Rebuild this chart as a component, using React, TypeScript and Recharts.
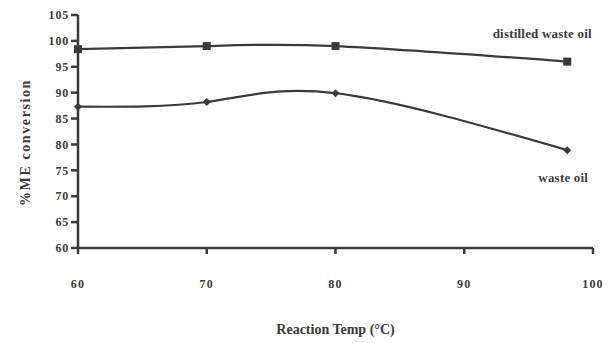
import React from "react";
import { LineChart, Line, XAxis, YAxis, Label, LabelList } from "recharts";

const temps = [60, 70, 80, 98];
const distilledWasteOil = [98.4, 99.0, 99.0, 96.0];
const wasteOil = [87.3, 88.2, 89.9, 78.9];
const xTicks = [60, 70, 80, 90, 100];
const yTicks = [60, 65, 70, 75, 80, 85, 90, 95, 100, 105];
const seriesNames = ["distilled waste oil", "waste oil"];
const xTitle = "Reaction Temp (°C)";
const yTitle = "%ME conversion";

const data = temps.map((t, i) => ({ t, d: distilledWasteOil[i], w: wasteOil[i] }));

const INK = "#3a3a3a";
const FONT = "'Liberation Serif', 'DejaVu Serif', serif";

const SquareDot = (props: any) => {
  const { cx, cy } = props;
  if (cx == null || cy == null) return null;
  return <rect x={cx - 4} y={cy - 4} width={8} height={8} fill={INK} />;
};

const DiamondDot = (props: any) => {
  const { cx, cy } = props;
  if (cx == null || cy == null) return null;
  return (
    <polygon
      points={`${cx},${cy - 4} ${cx + 4},${cy} ${cx},${cy + 4} ${cx - 4},${cy}`}
      fill={INK}
    />
  );
};

const makeEndLabel = (text: string, dx: number, dy: number, ls: number) => (props: any) => {
  const { x, y, index } = props;
  if (index !== temps.length - 1) return null;
  return (
    <text
      x={x + dx}
      y={y + dy}
      textAnchor="middle"
      fontFamily={FONT}
      fontWeight="bold"
      fontSize={13}
      letterSpacing={ls}
      fill={INK}
    >
      {text}
    </text>
  );
};

const YTitle = (props: any) => {
  const vb = props.viewBox || {};
  const cx = (vb.x ?? 38) - 13;
  const cy = (vb.y ?? 15) + (vb.height ?? 233) / 2 + 11;
  return (
    <text
      x={cx}
      y={cy}
      transform={`rotate(-90, ${cx}, ${cy})`}
      textAnchor="middle"
      dominantBaseline="central"
      fontFamily={FONT}
      fontWeight="bold"
      fontSize={14}
      letterSpacing={1.6}
      fill={INK}
    >
      {yTitle}
    </text>
  );
};

export default function App() {
  return (
    <div style={{ position: "absolute", left: 0, top: 0, background: "#fff" }}>
      <LineChart
        width={610}
        height={343}
        data={data}
        margin={{ top: 15, right: 17, bottom: 35, left: 38 }}
      >
        <XAxis
          dataKey="t"
          type="number"
          domain={[60, 100]}
          ticks={xTicks}
          stroke={INK}
          strokeWidth={2.5}
          tickSize={6}
          tickLine={{ stroke: INK, strokeWidth: 2.5 }}
          tick={{ fill: INK, fontFamily: FONT, fontWeight: "bold", fontSize: 12, letterSpacing: 1.2, dy: 23 }}
          height={60}
        >
          <Label
            value={xTitle}
            position="insideBottom"
            offset={0}
            dy={26}
            style={{ fill: INK, fontFamily: FONT, fontWeight: "bold", fontSize: 14 }}
          />
        </XAxis>
        <YAxis
          type="number"
          domain={[60, 105]}
          ticks={yTicks}
          stroke={INK}
          strokeWidth={2.5}
          tickSize={7}
          tickLine={{ stroke: INK, strokeWidth: 2.5 }}
          tick={{ fill: INK, fontFamily: FONT, fontWeight: "bold", fontSize: 12, letterSpacing: 0.8 }}
          width={40}
          interval={0}
        >
          <Label content={<YTitle />} />
        </YAxis>
        <Line
          dataKey="d"
          name={seriesNames[0]}
          type="natural"
          stroke={INK}
          strokeWidth={2.2}
          dot={<SquareDot />}
          isAnimationActive={false}
        >
          <LabelList dataKey="d" content={makeEndLabel(seriesNames[0], -25, -24, 0.2)} />
        </Line>
        <Line
          dataKey="w"
          name={seriesNames[1]}
          type="natural"
          stroke={INK}
          strokeWidth={2.2}
          dot={<DiamondDot />}
          isAnimationActive={false}
        >
          <LabelList dataKey="w" content={makeEndLabel(seriesNames[1], -4, 32, 0.2)} />
        </Line>
      </LineChart>
    </div>
  );
}
